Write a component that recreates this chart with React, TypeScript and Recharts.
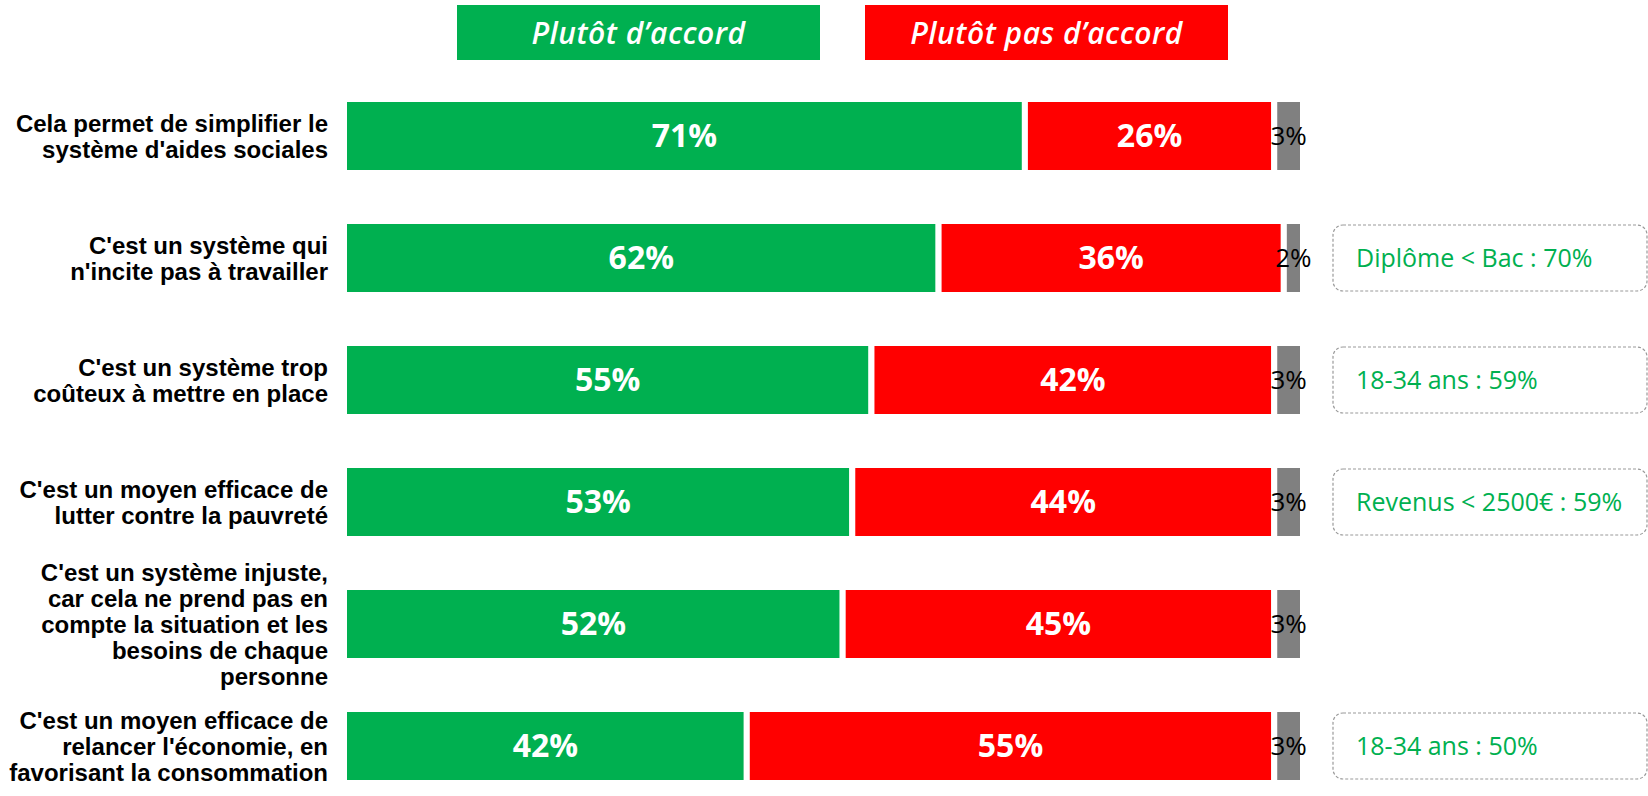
import React from "react";
import { BarChart, Bar, XAxis, YAxis, LabelList } from "recharts";

const categories = [
  "Cela permet de simplifier le\nsystème d'aides sociales",
  "C'est un système qui\nn'incite pas à travailler",
  "C'est un système trop\ncoûteux à mettre en place",
  "C'est un moyen efficace de\nlutter contre la pauvreté",
  "C'est un système injuste,\ncar cela ne prend pas en\ncompte la situation et les\nbesoins de chaque\npersonne",
  "C'est un moyen efficace de\nrelancer l'économie, en\nfavorisant la consommation",
];
const accord = [71, 62, 55, 53, 52, 42];
const pasAccord = [26, 36, 42, 44, 45, 55];
const nsp = [3, 2, 3, 3, 3, 3];
const notes = ["", "Diplôme < Bac : 70%", "18-34 ans : 59%", "Revenus < 2500€ : 59%", "", "18-34 ans : 50%"];
const seriesNames = ["Plutôt d’accord", "Plutôt pas d’accord"];

const GREEN = "#00B050";
const RED = "#FF0000";
const GREY = "#808080";

const data = categories.map((c, i) => ({
  cat: c,
  accord: accord[i],
  pasAccord: pasAccord[i],
  nsp: nsp[i],
  note: notes[i],
}));

const CatTick = (props: any) => {
  const { x, y, payload } = props;
  const lines = String(payload.value).split("\n");
  const lh = 26;
  const start = y - ((lines.length - 1) * lh) / 2 + 9;
  return (
    <text
      x={x}
      y={start}
      textAnchor="end"
      fontFamily="'Liberation Sans', Arial, sans-serif"
      fontWeight="bold"
      fontSize={24}
      fill="#000"
    >
      {lines.map((l, i) => (
        <tspan key={i} x={x} y={start + i * lh}>
          {l}
        </tspan>
      ))}
    </text>
  );
};

const NoteBox = (props: any) => {
  const vb = props.viewBox || props;
  const { value } = props;
  if (!value) return null;
  const bx = vb.x + vb.width + 30;
  const cy = vb.y + vb.height / 2;
  const h = 66;
  return (
    <g>
      <rect
        x={bx}
        y={cy - h / 2}
        width={314}
        height={h}
        rx={10}
        ry={10}
        fill="none"
        stroke="#9a9a9a"
        strokeWidth={1.2}
        strokeDasharray="3 2"
      />
      <text x={bx + 23} y={cy + 9} fontFamily="'Open Sans', sans-serif" fontSize={25} fill={GREEN}>
        {value}
      </text>
    </g>
  );
};

export default function App() {
  const legendColors = [GREEN, RED];
  const legendLeft = [457, 865];
  return (
    <div
      style={{
        position: "absolute",
        left: 0,
        top: 0,
        width: 1648,
        height: 796,
        overflow: "hidden",
        background: "#fff",
      }}
    >
      {seriesNames.map((n, i) => (
        <div
          key={n}
          style={{
            position: "absolute",
            left: legendLeft[i],
            top: 5,
            width: 363,
            height: 55,
            background: legendColors[i],
            color: "#fff",
            fontFamily: "'Open Sans', sans-serif",
            fontStyle: "italic",
            fontWeight: 600,
            fontSize: 30,
            letterSpacing: 0.5,
            display: "flex",
            alignItems: "center",
            justifyContent: "center",
          }}
        >
          {n}
        </div>
      ))}
      <BarChart
        width={1648}
        height={820}
        data={data}
        layout="vertical"
        margin={{ top: 75, right: 345, bottom: 13, left: 0 }}
      >
        <XAxis type="number" domain={[0, 100]} hide />
        <YAxis
          type="category"
          dataKey="cat"
          width={344}
          axisLine={false}
          tickLine={false}
          tickSize={0}
          tickMargin={16}
          interval={0}
          tick={<CatTick />}
        />
        <Bar dataKey="accord" stackId="a" fill={GREEN} stroke="#fff" strokeWidth={6} barSize={74} isAnimationActive={false}>
          <LabelList
            dataKey="accord"
            position="center"
            formatter={(v: any) => `${v}%`}
            fill="#fff"
            stroke="none"
            fontSize={32}
            fontWeight="bold"
            fontFamily="'Open Sans', sans-serif"
          />
        </Bar>
        <Bar dataKey="pasAccord" stackId="a" fill={RED} stroke="#fff" strokeWidth={6} barSize={74} isAnimationActive={false}>
          <LabelList
            dataKey="pasAccord"
            position="center"
            formatter={(v: any) => `${v}%`}
            fill="#fff"
            stroke="none"
            fontSize={32}
            fontWeight="bold"
            fontFamily="'Open Sans', sans-serif"
          />
        </Bar>
        <Bar dataKey="nsp" stackId="a" fill={GREY} stroke="#fff" strokeWidth={6} barSize={74} isAnimationActive={false}>
          <LabelList
            dataKey="nsp"
            position="center"
            formatter={(v: any) => `${v}%`}
            fill="#000"
            stroke="none"
            fontSize={26}
            fontFamily="'Open Sans', sans-serif"
          />
          <LabelList dataKey="note" content={<NoteBox />} />
        </Bar>
      </BarChart>
    </div>
  );
}
